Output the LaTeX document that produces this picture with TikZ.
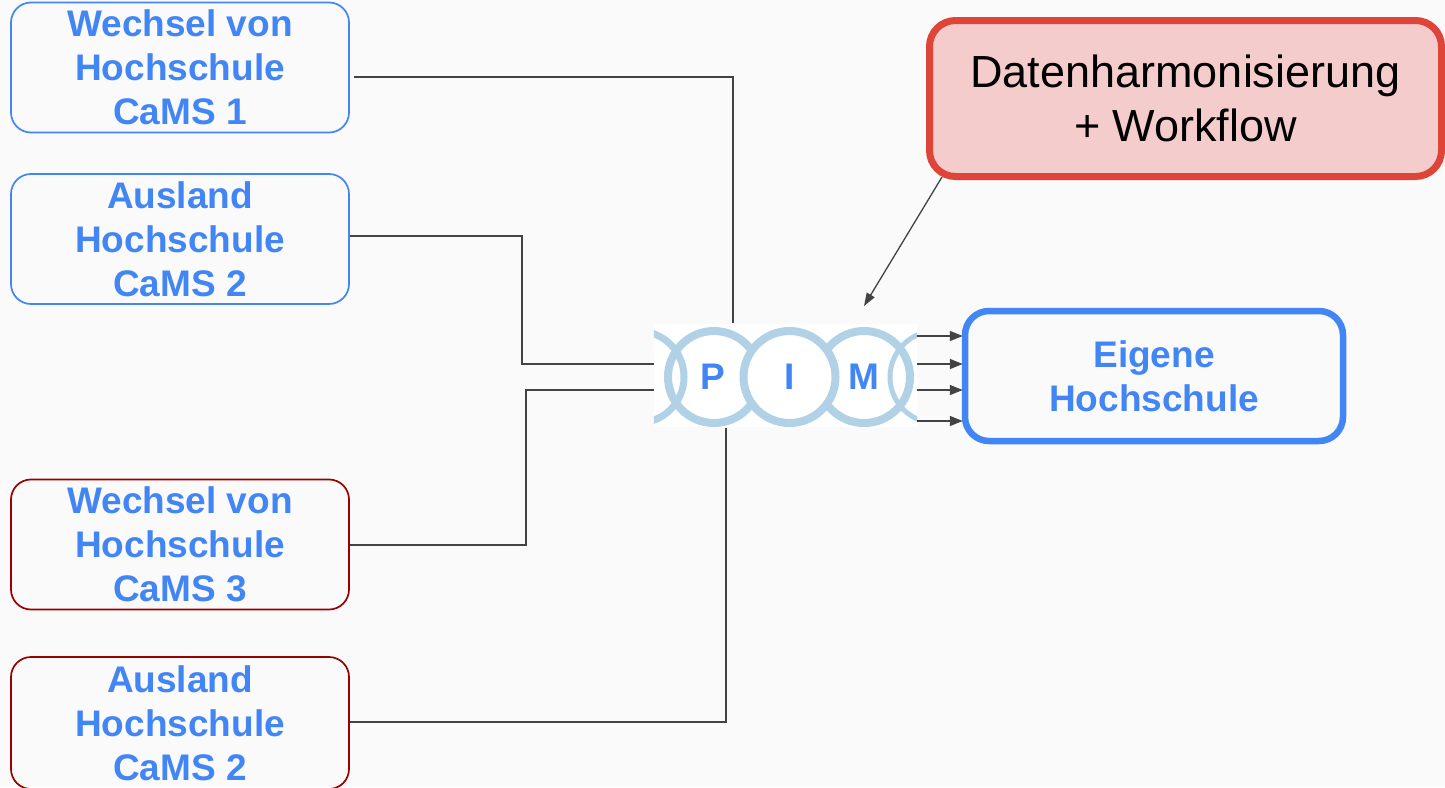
\documentclass[tikz,border=0pt]{standalone}
\usepackage{fontspec}
\setmainfont{Liberation Sans}
\usetikzlibrary{arrows.meta}
\definecolor{paper}{HTML}{FAFAFA}
\definecolor{gblue}{HTML}{4285F4}
\definecolor{gred}{HTML}{990000}
\definecolor{wfred}{HTML}{DE4437}
\definecolor{wffill}{HTML}{F4CCCC}
\definecolor{ringblue}{HTML}{B1D2E6}
\definecolor{linegray}{HTML}{434343}
\tikzset{%
  source/.style   = {shape=rectangle, rounded corners=20pt,%
                     draw=gblue, line width=1.7pt, align=center,%
                     minimum width=338pt, minimum height=130pt, inner sep=0pt,%
                     text=gblue, font=\fontsize{37}{44}\selectfont\bfseries,%
                     execute at begin node={\rule{0pt}{29pt}}},%
  sourcered/.style = {source, draw=gred},%
  target/.style   = {source, line width=6.5pt, rounded corners=24pt,%
                     minimum width=378pt,%
                     execute at begin node={\rule{0pt}{27.5pt}}},%
  workflow/.style = {shape=rectangle, rounded corners=26pt,%
                     draw=wfred, fill=wffill, line width=7pt, align=center,%
                     minimum width=512pt, minimum height=156pt, inner sep=0pt,%
                     font=\fontsize{45}{54}\selectfont,%
                     execute at begin node={\rule{0pt}{35pt}}},%
  ring/.style     = {circle, draw=ringblue, line width=8pt, inner sep=0pt,%
                     minimum size=92pt, text=gblue,%
                     font=\fontsize{37}{44}\selectfont\bfseries},%
  link/.style     = {draw=linegray, line width=1.5pt},%
  feed/.style     = {link, -{Triangle[length=13pt,width=10pt]}, shorten >=-1pt}%
}
\begin{document}
\begin{tikzpicture}[x=1pt,y=-1pt]
	\useasboundingbox [fill=paper] (0,0) rectangle (1445,787);
	\node (wechsela) [source] at (180,67.5) {Wechsel von\\Hochschule\\CaMS 1};
	\node (auslanda) [source] at (180,239) {Ausland\\Hochschule\\CaMS 2};
	\node (wechselb) [sourcered] at (180,544.5) {Wechsel von\\Hochschule\\CaMS 3};
	\node (auslandb) [sourcered, minimum height=132pt] at (180,723) {Ausland\\Hochschule\\CaMS 2};
	\node (eigene) [target] at (1154,376) {Eigene\\Hochschule};
	\node (workflow) [workflow] at (1185.5,98.5) {Datenharmonisierung\\+ Workflow};
	% logo
	\node (logo) [fill=white, minimum width=263pt, minimum height=103pt, inner sep=0pt] at (785.5,375.5) {};
	\begin{scope}
		\clip (logo.north west) rectangle (logo.south east);
		\node (ringl) [ring, line width=7pt] at (638,377) {};
		\node (ringr) [ring, line width=5pt] at (936,377) {};
	\end{scope}
	\node (ringp) [ring] at (714,377) {\hspace{-2pt}P};
	\node (ringm) [ring] at (864,377) {M};
	\node (ringi) [ring, fill=white] at (789.5,377) {I};
	% in
	\coordinate (ina) at (733,323);
	\coordinate (inb) at (654,364);
	\coordinate (inc) at (654,390);
	\coordinate (ind) at (726,428);
	\draw [link] (354,77) -| (ina);
	\draw [link] (auslanda.east |- 0,236) -- (522,236) |- (inb);
	\draw [link] (wechselb.east |- 0,545) -- (526,545) |- (inc);
	\draw [link] (auslandb.east |- 0,722) -| (ind);
	% out
	\foreach \y in {336,364,390,421}
		\draw [feed] (logo.east |- 0,\y) -- (eigene.west |- 0,\y);
	\coordinate (pimtop) at (864,306);
	\draw [link, -{Triangle[length=13pt,width=9pt]}, line width=1.3pt] (942,177) -- (pimtop);
\end{tikzpicture}
\end{document}
